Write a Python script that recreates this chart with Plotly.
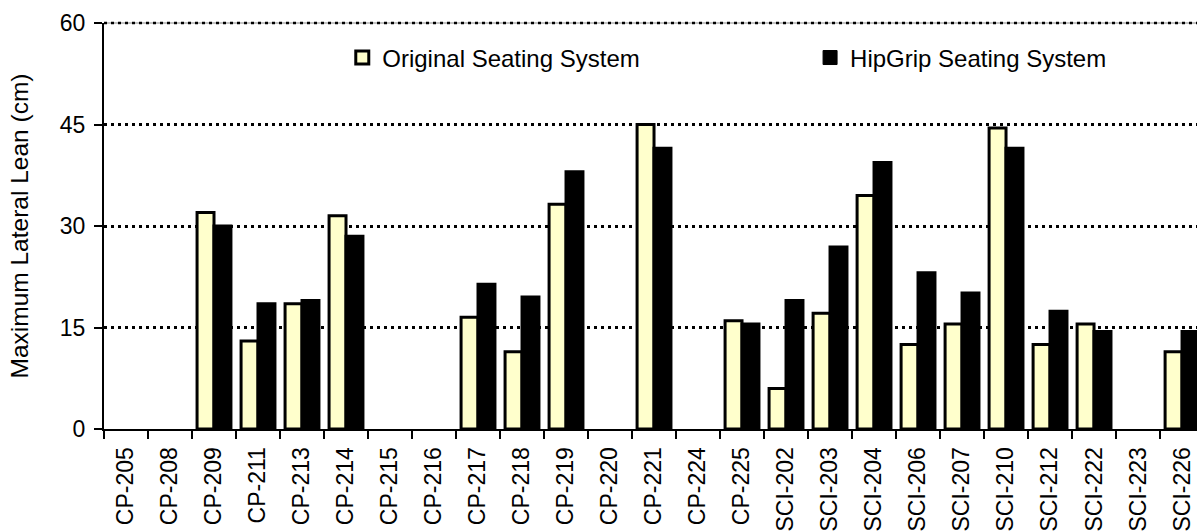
import plotly.graph_objects as go

categories = ["CP-205", "CP-208", "CP-209", "CP-211", "CP-213", "CP-214", "CP-215",
              "CP-216", "CP-217", "CP-218", "CP-219", "CP-220", "CP-221", "CP-224",
              "CP-225", "SCI-202", "SCI-203", "SCI-204", "SCI-206", "SCI-207",
              "SCI-210", "SCI-212", "SCI-222", "SCI-223", "SCI-226"]
original = [None, None, 32.0, 13.0, 18.5, 31.5, None, None, 16.5, 11.4, 33.2, None,
            45.0, None, 16.0, 6.0, 17.1, 34.5, 12.5, 15.5, 44.5, 12.5, 15.5, None, 11.4]
hipgrip = [None, None, 30.0, 18.5, 19.0, 28.5, None, None, 21.4, 19.5, 38.0, None,
           41.5, None, 15.5, 19.0, 26.9, 39.4, 23.1, 20.1, 41.5, 17.4, 14.4, None, 14.4]
y_ticks = [0, 15, 30, 45, 60]
Y_MAX = 60

FONT = "Arial, Liberation Sans, sans-serif"
YELLOW = "#FFFFCC"

fig = go.Figure()
fig.add_trace(go.Bar(
    x=categories, y=original, name="Original Seating System",
    marker=dict(color=YELLOW, line=dict(color="black", width=3)),
    showlegend=False,
))
fig.add_trace(go.Bar(
    x=categories, y=hipgrip, name="HipGrip Seating System",
    marker=dict(color="black", line=dict(color="black", width=3)),
    showlegend=False,
))
# legend entries (square symbols like the reference)
fig.add_trace(go.Scatter(
    x=[None], y=[None], mode="markers", name="Original Seating System",
    marker=dict(symbol="square", size=13, color=YELLOW, line=dict(color="black", width=3)),
    legend="legend",
))
fig.add_trace(go.Scatter(
    x=[None], y=[None], mode="markers", name="HipGrip Seating System",
    marker=dict(symbol="square", size=14, color="black", line=dict(color="black", width=1)),
    legend="legend2",
))

# top border of plot area (gray rule with dotted gridline on it)
fig.add_shape(type="line", xref="paper", x0=0, x1=1, yref="paper", y0=1, y1=1,
              line=dict(color="#888888", width=1), layer="below")
fig.add_shape(type="line", xref="paper", x0=0, x1=1, yref="paper", y0=1, y1=1,
              line=dict(color="black", width=2.5, dash="3px,4px"), layer="below")

fig.update_layout(
    width=1197, height=531,
    margin=dict(l=104, r=0, t=23, b=102),
    plot_bgcolor="white", paper_bgcolor="white",
    font=dict(family=FONT, color="black", size=23),
    barmode="group", bargap=0.23, bargroupgap=0,
    legend=dict(x=0.218, y=0.914, xanchor="left", yanchor="middle",
                font=dict(size=24, family=FONT), bgcolor="rgba(0,0,0,0)"),
    legend2=dict(x=0.646, y=0.914, xanchor="left", yanchor="middle",
                 font=dict(size=24, family=FONT), bgcolor="rgba(0,0,0,0)"),
    showlegend=True,
)
fig.update_xaxes(
    type="category", range=[-0.5, 24.34], automargin=False,
    showline=True, linecolor="black", linewidth=2,
    ticks="outside", tickson="boundaries", ticklen=8, tickwidth=2, tickcolor="black",
    tickangle=-90, tickfont=dict(size=23, family=FONT), ticklabelstandoff=7,
    showgrid=False, zeroline=False,
)
fig.update_yaxes(
    range=[0, Y_MAX], tickvals=y_ticks, automargin=False,
    showline=True, linecolor="black", linewidth=2,
    ticks="outside", ticklen=8, tickwidth=2, tickcolor="black",
    tickfont=dict(size=23, family=FONT), ticklabelstandoff=4,
    showgrid=True, gridcolor="black", gridwidth=2.5, griddash="3px,4px",
    zeroline=False,
    title=dict(text="Maximum Lateral Lean (cm)", font=dict(size=24.5, family=FONT), standoff=24),
)

fig.write_html(
    "out.html",
    config={"displayModeBar": False},
    post_script="document.body.style.margin='0';document.body.style.overflow='hidden';",
)
